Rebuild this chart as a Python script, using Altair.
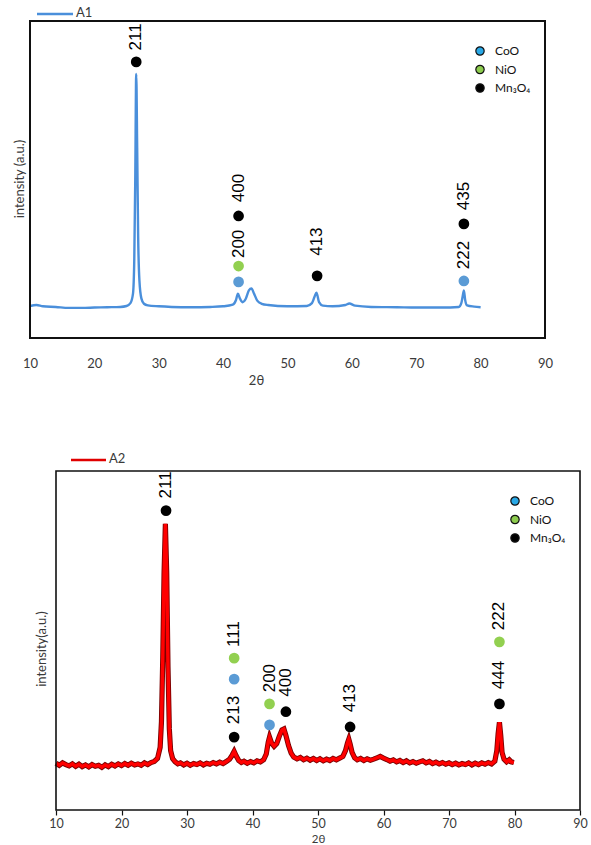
import altair as alt
import pandas as pd

# ---------------- data: sample A1 (top) ----------------
a1_theta = [10.0, 11.0, 12.0, 14.0, 16.0, 18.0, 20.0, 22.0, 24.0, 25.0, 25.6, 26.0, 26.2, 26.35,
            26.5, 26.65, 26.8, 27.0, 27.3, 27.7, 28.3, 30.0, 32.0, 35.0, 38.0, 40.0, 41.5, 42.0,
            42.3, 42.6, 43.0, 43.5, 44.0, 44.4, 44.8, 45.3, 46.0, 47.0, 50.0, 53.0, 53.8, 54.2,
            54.5, 54.9, 55.5, 57.0, 59.0, 59.6, 60.5, 63.0, 67.0, 70.0, 74.0, 76.6, 77.0, 77.2,
            77.4, 77.6, 77.9, 79.0, 80.0]
a1_int = [10.1, 10.4, 10.0, 9.8, 9.5, 9.5, 9.6, 9.7, 9.8, 10.1, 11.0, 14.0, 25.0, 50.0,
          83.3, 60.0, 32.0, 18.0, 12.5, 10.8, 10.3, 10.0, 9.8, 9.7, 9.8, 10.0, 10.5, 12.0,
          14.0, 12.5, 11.3, 12.3, 15.0, 15.6, 14.0, 11.8, 10.8, 10.4, 10.0, 10.1, 11.0, 13.0,
          14.3, 11.3, 10.2, 10.0, 10.4, 10.9, 10.2, 9.8, 9.7, 9.6, 9.6, 9.8, 11.0, 13.0,
          15.0, 12.0, 10.3, 9.9, 9.7]

a1_mk_theta = [26.5, 42.4, 42.4, 42.4, 54.6, 77.4, 77.4]
a1_mk_int = [87.1, 17.7, 22.7, 38.5, 19.6, 18.0, 36.0]
a1_mk_phase = ["Mn3O4", "CoO", "NiO", "Mn3O4", "Mn3O4", "CoO", "Mn3O4"]
a1_lb_theta = [26.5, 42.4, 42.4, 54.6, 77.4, 77.4]
a1_lb_int = [95.0, 29.7, 47.3, 30.4, 26.2, 44.8]
a1_lb_text = ["211", "200", "400", "413", "222", "435"]

# ---------------- data: sample A2 (bottom) ----------------
a2_theta = [10.0, 10.5, 11.0, 11.5, 12.0, 12.5, 13.0, 13.5, 14.0, 14.5, 15.0, 15.5, 16.0, 16.5,
            17.0, 17.5, 18.0, 18.5, 19.0, 19.5, 20.0, 20.5, 21.0, 21.5, 22.0, 22.5, 23.0, 23.5,
            24.0, 24.5, 25.0, 25.5, 25.9, 26.1, 26.3, 26.5, 26.7, 26.9, 27.1, 27.3, 27.5, 27.8,
            28.2, 28.6, 29.0, 29.5, 30.0, 30.5, 31.0, 31.5, 32.0, 32.5, 33.0, 33.5, 34.0, 34.5,
            35.0, 35.5, 36.0, 36.5, 36.9, 37.2, 37.5, 37.9, 38.3, 38.7, 39.2, 39.7, 40.2, 40.7,
            41.2, 41.7, 42.1, 42.4, 42.6, 42.9, 43.3, 43.7, 44.1, 44.5, 44.8, 45.1, 45.5, 45.9,
            46.3, 46.8, 47.3, 47.8, 48.3, 48.8, 49.3, 49.8, 50.3, 50.8, 51.3, 51.8, 52.3, 52.8,
            53.3, 53.8, 54.2, 54.5, 54.7, 54.9, 55.2, 55.6, 56.0, 56.5, 57.0, 57.5, 58.0, 58.5,
            59.0, 59.5, 60.0, 60.5, 61.0, 61.5, 62.0, 62.5, 63.0, 63.5, 64.0, 64.5, 65.0, 65.5,
            66.0, 66.5, 67.0, 67.5, 68.0, 68.5, 69.0, 69.5, 70.0, 70.5, 71.0, 71.5, 72.0, 72.5,
            73.0, 73.5, 74.0, 74.5, 75.0, 75.5, 76.0, 76.5, 77.0, 77.3, 77.5, 77.7, 77.9, 78.1,
            78.4, 78.8, 79.2, 79.5, 79.9]
a2_int = [13.8, 13.2, 13.9, 13.4, 13.0, 13.6, 12.9, 13.5, 12.8, 13.3, 12.7, 13.4, 12.9, 13.2,
          12.6, 13.3, 12.8, 13.5, 13.0, 13.6, 13.1, 13.7, 13.2, 13.8, 13.3, 13.6, 13.2, 13.9,
          13.4, 14.0, 14.3, 15.2, 18.5, 26.0, 45.0, 70.0, 84.4, 70.0, 42.0, 24.0, 17.5, 15.2,
          14.2, 13.6, 13.9, 13.3, 13.8, 13.2, 13.7, 13.4, 13.9, 13.3, 13.8, 13.5, 14.0, 13.6,
          14.1, 13.7, 14.3, 15.0, 16.2, 17.3, 16.0, 14.6, 14.0, 14.4, 13.8, 14.3, 13.9, 14.5,
          14.2, 14.8, 16.5, 20.0, 21.5, 19.8, 18.8, 19.6, 21.8, 23.6, 23.9, 22.0, 19.0, 16.8,
          15.6, 15.1, 15.5, 14.8, 15.3, 14.7, 15.2, 14.6, 15.1, 14.5, 15.0, 14.6, 15.2, 14.8,
          15.3, 15.8, 17.5, 19.8, 20.9, 19.5, 17.0, 15.4, 14.8, 15.2, 14.6, 15.1, 14.7, 15.0,
          15.4, 15.8, 15.3, 14.9, 14.4, 14.8, 14.2, 14.6, 14.0, 14.5, 13.9, 14.3, 13.8, 14.2,
          14.5, 13.9, 14.3, 13.7, 14.1, 13.6, 14.0, 13.5, 13.9, 13.4, 13.8, 13.3, 13.7, 13.4,
          13.9, 13.3, 13.8, 13.4, 13.9, 13.5, 14.0, 13.6, 14.4, 17.5, 22.5, 25.9, 22.0, 17.0,
          15.0, 14.2, 14.8, 14.2, 14.0]

a2_mk_theta = [26.8, 37.2, 37.2, 37.2, 42.6, 42.6, 45.1, 54.9, 77.7, 77.7]
a2_mk_int = [88.3, 21.5, 38.6, 44.8, 25.1, 31.3, 29.0, 24.5, 31.3, 49.6]
a2_mk_phase = ["Mn3O4", "Mn3O4", "CoO", "NiO", "CoO", "NiO", "Mn3O4", "Mn3O4", "Mn3O4", "NiO"]
a2_lb_theta = [26.8, 37.2, 37.2, 42.6, 45.1, 54.9, 77.7, 77.7]
a2_lb_int = [95.9, 29.5, 51.9, 38.9, 37.6, 33.0, 39.8, 57.2]
a2_lb_text = ["211", "213", "111", "200", "400", "413", "444", "222"]

phases = ["CoO", "NiO", "Mn3O4"]
phase_labels = ["CoO", "NiO", "Mn₃O₄"]
phase_colors = ["#5b9bd5", "#92d050", "#000000"]
legend_colors = ["#29a8e6", "#8dcc4e", "#000000"]
x_ticks = [10, 20, 30, 40, 50, 60, 70, 80, 90]
x_domain = [10, 90]

TICK_FONT = "Lato"
LABEL_FONT = "Liberation Sans"


def panel(theta, inten, mk_t, mk_i, mk_p, lb_t, lb_i, lb_txt, *, width, height, xrange,
          line_color, ytitle, ytitle_pos, series, series_pos, legend_pos, frame_w,
          axis_kwargs, noisy):
    xs = alt.Scale(domain=x_domain, range=xrange, nice=False, zero=False)
    ys = alt.Scale(domain=[0, 100], nice=False, zero=False)
    ax = alt.Axis(values=x_ticks, grid=False, domain=False, labelFont=TICK_FONT,
                  labelColor="#3a3a3a", labelFlush=False, title="2θ",
                  titleFont=TICK_FONT, titleFontWeight="normal",
                  titleColor="#3a3a3a", **axis_kwargs)

    def X(f):
        return alt.X(f, type="quantitative", scale=xs, axis=ax)

    def Y(f):
        return alt.Y(f, type="quantitative", scale=ys, axis=None)

    curve = pd.DataFrame({"t": theta, "i": inten})
    layers = []
    if noisy:
        layers.append(alt.Chart(curve).mark_line(color="#7a0000", strokeWidth=5.2, interpolate="linear")
                      .encode(x=X("t"), y=Y("i"), order="t:Q"))
        layers.append(alt.Chart(curve).mark_line(color="#ff0000", strokeWidth=3.4, interpolate="linear")
                      .encode(x=X("t"), y=Y("i"), order="t:Q"))
    else:
        layers.append(alt.Chart(curve).mark_line(color=line_color, strokeWidth=2.4, interpolate="monotone")
                      .encode(x=X("t"), y=Y("i"), order="t:Q"))

    frame = pd.DataFrame({"lo": [x_domain[0]], "hi": [x_domain[1]]})
    layers.append(alt.Chart(frame).mark_rect(fillOpacity=0, stroke="#111111", strokeWidth=frame_w)
                  .encode(x=X("lo"), x2="hi", y=alt.value(0), y2=alt.value(height)))

    mk = pd.DataFrame({"t": mk_t, "i": mk_i, "p": mk_p})
    layers.append(alt.Chart(mk).mark_point(shape="circle", filled=True, size=115, opacity=1)
                  .encode(x=X("t"), y=Y("i"),
                          color=alt.Color("p:N", scale=alt.Scale(domain=phases, range=phase_colors),
                                          legend=None)))
    lb = pd.DataFrame({"t": lb_t, "i": lb_i, "s": lb_txt})
    layers.append(alt.Chart(lb).mark_text(angle=270, align="center", baseline="middle",
                                          font=LABEL_FONT, fontSize=17, color="#000000")
                  .encode(x=X("t"), y=Y("i"), text="s:N"))

    one = pd.DataFrame({"k": [0]})
    # y title
    layers.append(alt.Chart(one).mark_text(angle=270, align="center", baseline="middle",
                                           font=TICK_FONT, fontSize=13, color="#3a3a3a")
                  .encode(x=alt.value(ytitle_pos[0]), y=alt.value(ytitle_pos[1]),
                          text=alt.value(ytitle)))
    # series legend
    sx0, sx1, sy = series_pos
    layers.append(alt.Chart(one).mark_rule(color=line_color, strokeWidth=2.4)
                  .encode(x=alt.value(sx0), x2=alt.value(sx1), y=alt.value(sy)))
    layers.append(alt.Chart(one).mark_text(align="left", baseline="middle", font=TICK_FONT,
                                           fontSize=13, color="#3a3a3a")
                  .encode(x=alt.value(sx1 + 3), y=alt.value(sy - 1), text=alt.value(series)))
    # phase legend
    lx, ly, dy = legend_pos
    for k, (name, col) in enumerate(zip(phase_labels, legend_colors)):
        layers.append(alt.Chart(one).mark_point(shape="circle", filled=True, size=70,
                                                fill=col, stroke="#111111", strokeWidth=1.2, opacity=1)
                      .encode(x=alt.value(lx), y=alt.value(ly + k * dy)))
        layers.append(alt.Chart(one).mark_text(align="left", baseline="middle", font=TICK_FONT,
                                               fontSize=12, color="#111111")
                      .encode(x=alt.value(lx + 15), y=alt.value(ly + k * dy), text=alt.value(name)))
    return alt.layer(*layers).properties(width=width, height=height)


top = panel(a1_theta, a1_int, a1_mk_theta, a1_mk_int, a1_mk_phase, a1_lb_theta, a1_lb_int, a1_lb_text,
            width=515, height=317, xrange=[0, 515], line_color="#4a8fdb",
            ytitle="intensity (a.u.)", ytitle_pos=(-10, 158), series="A1", series_pos=(7, 43, -7),
            legend_pos=(450, 30, 18.5), frame_w=2,
            axis_kwargs=dict(ticks=False, labelPadding=19, labelFontSize=13, titleX=226, titleY=42,
                             titleFontSize=13, titleBaseline="middle", titleAlign="center"),
            noisy=False)

bottom = panel(a2_theta, a2_int, a2_mk_theta, a2_mk_int, a2_mk_phase, a2_lb_theta, a2_lb_int, a2_lb_text,
               width=550, height=339, xrange=[26, 550], line_color="#e00000",
               ytitle="intensity(a.u.)", ytitle_pos=(12, 178), series="A2", series_pos=(41, 76, -11),
               legend_pos=(485, 30, 18.5), frame_w=1.6,
               axis_kwargs=dict(ticks=True, tickSize=5, tickColor="#111111", tickWidth=1.2,
                                labelPadding=2, labelFontSize=12.5, titleX=288, titleY=23,
                                titleFontSize=11.5, titleBaseline="top", titleAlign="center"),
               noisy=True)

chart = (alt.vconcat(top, bottom, spacing=133, bounds="flush")
         .resolve_scale(x="independent", y="independent", color="independent")
         .properties(padding={"left": 14, "top": 7, "right": 0, "bottom": 0}, background="white")
         .configure_view(strokeWidth=0))

chart.save("out.html", embed_options={"renderer": "svg", "actions": False})
